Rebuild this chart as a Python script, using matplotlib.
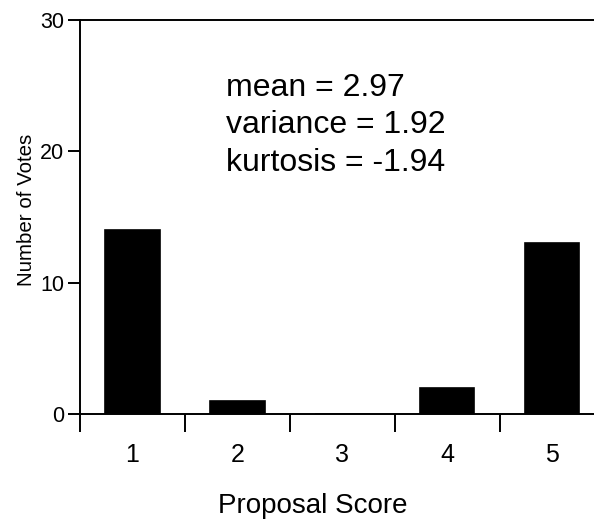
import numpy as np
import matplotlib
matplotlib.use('Agg')
from matplotlib import pyplot as plt

plt.rcParams['font.family'] = ['Liberation Sans', 'DejaVu Sans']

scores = [1, 2, 3, 4, 5]
votes = [14, 1, 0, 2, 13]
score_labels = ['1', '2', '3', '4', '5']
stats_lines = ['mean = 2.97', 'variance = 1.92', 'kurtosis = -1.94']

fig = plt.figure(figsize=(5.94, 5.26), dpi=100)
ax = fig.add_axes([80/594., 1 - 414/526., 514/594., (414 - 20)/526.])

ax.bar(scores, votes, width=0.52, color='black', edgecolor='black', linewidth=1.2)

ax.set_xlim(0.5, 5.4)
ax.set_ylim(0, 30)

# tick marks sit between the bars, labels under the bar centres
ax.set_xticks([0.5, 1.5, 2.5, 3.5, 4.5])
ax.set_xticklabels([])
ax.set_xticks(scores, minor=True)
ax.set_xticklabels(score_labels, minor=True)
ax.tick_params(axis='x', which='major', direction='out', length=13, width=1.4)
ax.tick_params(axis='x', which='minor', length=0, pad=21, labelsize=18)

ax.set_yticks([0, 10, 20, 30])
ax.tick_params(axis='y', direction='out', length=8.5, width=1.4, pad=3, labelsize=15.5)

for side in ['left', 'bottom', 'top']:
    ax.spines[side].set_linewidth(1.4)
ax.spines['right'].set_visible(False)

ax.set_ylabel('Number of Votes', fontsize=14.8)
ax.yaxis.set_label_coords(-0.086, 0.518)
ax.set_xlabel('Proposal Score', fontsize=20)
ax.xaxis.set_label_coords(0.453, -0.2)

ax.text(0.285, 0.866, '\n'.join(stats_lines), transform=ax.transAxes,
        fontsize=23, va='top', ha='left', linespacing=1.33)

fig.savefig('out.png', dpi=100)
